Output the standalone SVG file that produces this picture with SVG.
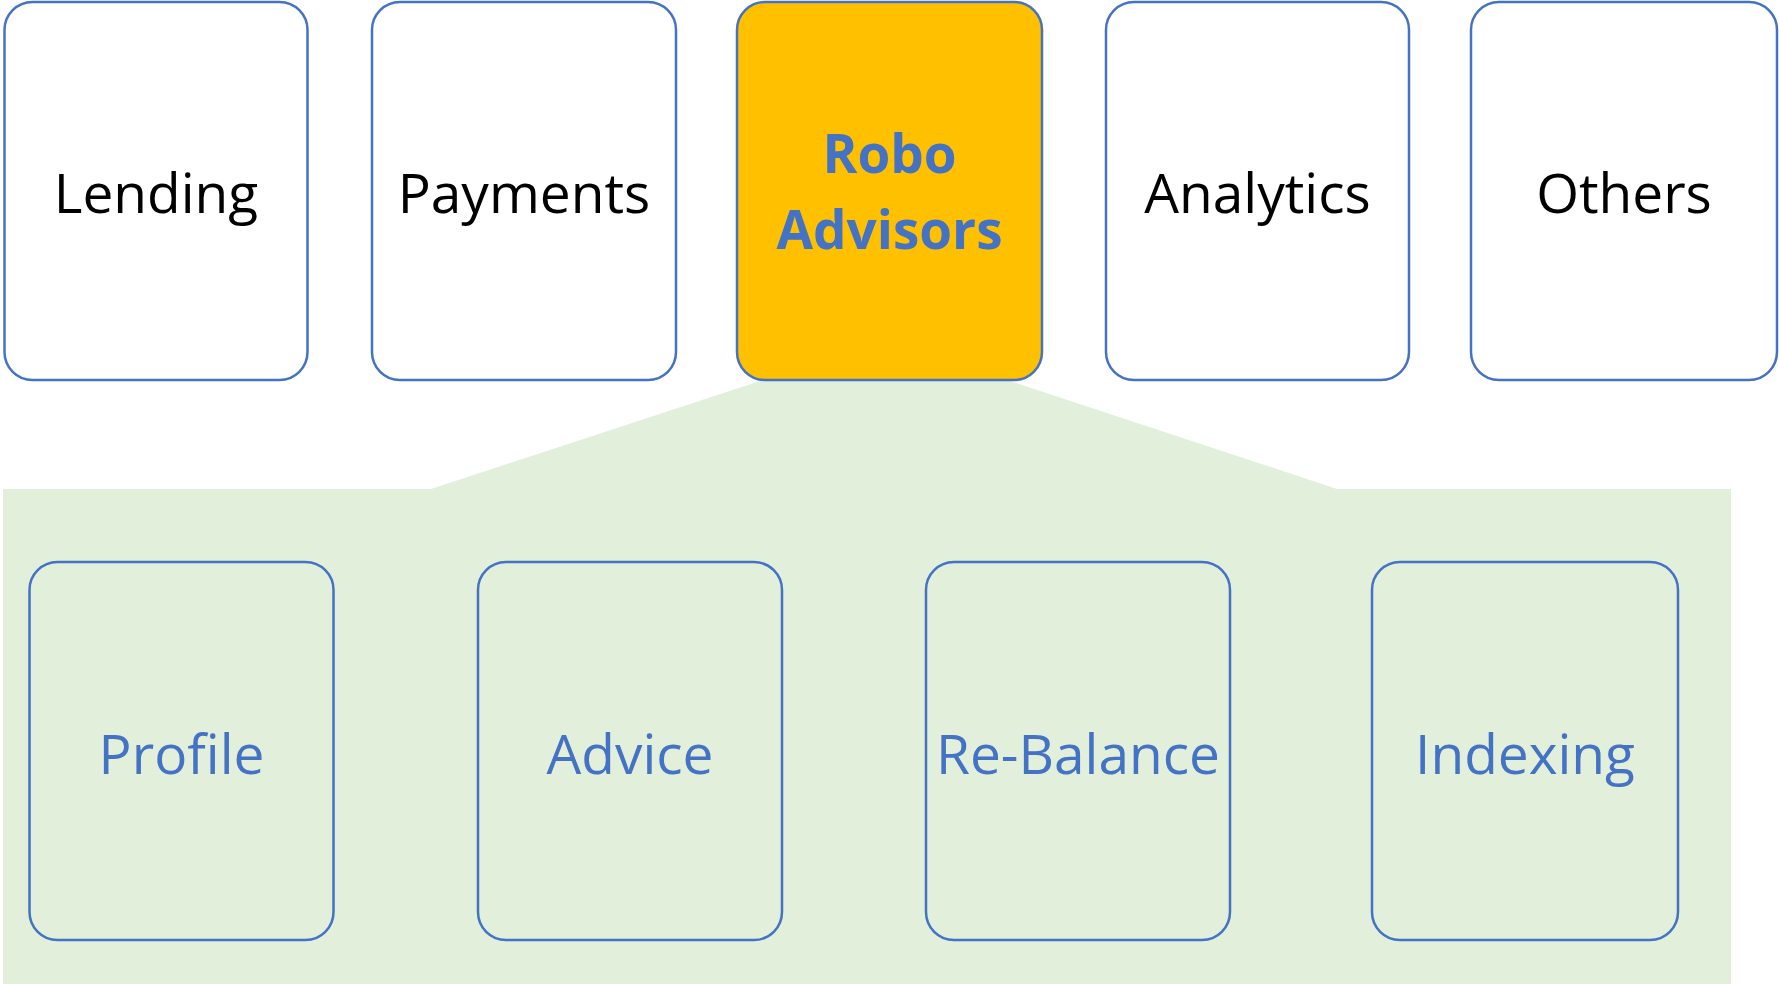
<svg xmlns="http://www.w3.org/2000/svg" width="1779" height="984" viewBox="0 0 1779 984">
<style>
.box{fill:#FFFFFF;stroke:#4472C4;stroke-width:2.5}
.hl{fill:#FFC000;stroke:#4472C4;stroke-width:2.5}
.sub{fill:none;stroke:#4472C4;stroke-width:2.5}
.t{font-family:"Open Sans","Liberation Sans",sans-serif;font-size:55px;text-anchor:middle;fill:#000000}
.tb{font-family:"Open Sans","Liberation Sans",sans-serif;font-size:53px;font-weight:bold;text-anchor:middle;fill:#4472C4}
.ts{font-family:"Open Sans","Liberation Sans",sans-serif;font-size:55px;text-anchor:middle;fill:#4472C4}
</style>
<g id="connectors">
<path d="M760,381 L1010,381 L1337,489 L1731,489 L1731,984 L3,984 L3,489 L431,489 Z" fill="#E2EFDA"/>
</g>
<g id="lending"><rect class="box" x="4.5" y="2" width="303" height="378" rx="28"/><text class="t" x="156" y="213">Lending</text></g>
<g id="payments"><rect class="box" x="372" y="2" width="304" height="378" rx="28"/><text class="t" x="524" y="213">Payments</text></g>
<g id="robo"><rect class="hl" x="737" y="2" width="305" height="378" rx="28"/><text class="tb" x="889.5" y="173">Robo</text><text class="tb" x="889.5" y="249">Advisors</text></g>
<g id="analytics"><rect class="box" x="1106" y="2" width="303" height="378" rx="28"/><text class="t" x="1257.5" y="213">Analytics</text></g>
<g id="others"><rect class="box" x="1471" y="2" width="306" height="378" rx="28"/><text class="t" x="1624" y="213">Others</text></g>
<g id="profile"><rect class="sub" x="29.5" y="562" width="304" height="378" rx="28"/><text class="ts" x="181.5" y="774">Profile</text></g>
<g id="advice"><rect class="sub" x="478" y="562" width="304" height="378" rx="28"/><text class="ts" x="630" y="774">Advice</text></g>
<g id="rebalance"><rect class="sub" x="926" y="562" width="304" height="378" rx="28"/><text class="ts" x="1078" y="774">Re-Balance</text></g>
<g id="indexing"><rect class="sub" x="1372" y="562" width="306" height="378" rx="28"/><text class="ts" x="1525" y="774">Indexing</text></g>
</svg>
